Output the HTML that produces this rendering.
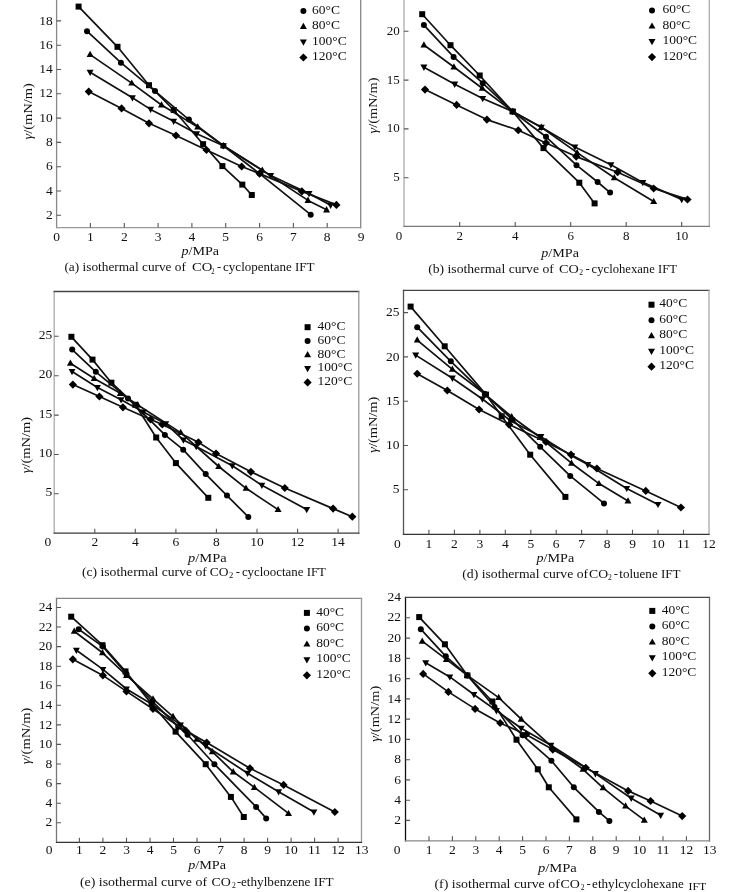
<!DOCTYPE html>
<html><head><meta charset="utf-8"><style>
html,body{margin:0;padding:0;background:#fff;width:737px;height:892px;overflow:hidden}
svg{display:block;filter:blur(0.3px)}
text{font-family:"Liberation Serif",serif;fill:#111}
</style></head><body>
<svg width="737" height="892" viewBox="0 0 737 892">
<rect width="737" height="892" fill="#fff"/>
<path d="M56.6,-4.0V228.2" stroke="#888" stroke-width="1.3"/>
<path d="M56.0,-3.4H361.3" stroke="#666" stroke-width="1.3"/>
<path d="M360.7,-4.0V228.2" stroke="#888" stroke-width="1.3"/>
<path d="M56.0,227.6H361.3" stroke="#999" stroke-width="1.3"/>
<path d="M90.4,227.6V223.1M124.3,227.6V223.1M158.1,227.6V223.1M191.9,227.6V223.1M225.7,227.6V223.1M259.6,227.6V223.1M293.4,227.6V223.1M327.2,227.6V223.1M56.6,215.3H61.1M56.6,191.0H61.1M56.6,166.7H61.1M56.6,142.4H61.1M56.6,118.1H61.1M56.6,93.8H61.1M56.6,69.5H61.1M56.6,45.2H61.1M56.6,20.9H61.1" stroke="#555" stroke-width="1.1" fill="none"/>
<text transform="translate(56.6,240.6) scale(1.0,1)" font-size="13.5" text-anchor="middle">0</text>
<text transform="translate(90.4,240.6) scale(1.0,1)" font-size="13.5" text-anchor="middle">1</text>
<text transform="translate(124.3,240.6) scale(1.0,1)" font-size="13.5" text-anchor="middle">2</text>
<text transform="translate(158.1,240.6) scale(1.0,1)" font-size="13.5" text-anchor="middle">3</text>
<text transform="translate(191.9,240.6) scale(1.0,1)" font-size="13.5" text-anchor="middle">4</text>
<text transform="translate(225.7,240.6) scale(1.0,1)" font-size="13.5" text-anchor="middle">5</text>
<text transform="translate(259.6,240.6) scale(1.0,1)" font-size="13.5" text-anchor="middle">6</text>
<text transform="translate(293.4,240.6) scale(1.0,1)" font-size="13.5" text-anchor="middle">7</text>
<text transform="translate(327.2,240.6) scale(1.0,1)" font-size="13.5" text-anchor="middle">8</text>
<text transform="translate(361.1,240.6) scale(1.0,1)" font-size="13.5" text-anchor="middle">9</text>
<text transform="translate(52.7,218.9) scale(1.0,1)" font-size="13.5" text-anchor="end">2</text>
<text transform="translate(52.7,194.6) scale(1.0,1)" font-size="13.5" text-anchor="end">4</text>
<text transform="translate(52.7,170.3) scale(1.0,1)" font-size="13.5" text-anchor="end">6</text>
<text transform="translate(52.7,146.0) scale(1.0,1)" font-size="13.5" text-anchor="end">8</text>
<text transform="translate(52.7,121.7) scale(1.0,1)" font-size="13.5" text-anchor="end">10</text>
<text transform="translate(52.7,97.4) scale(1.0,1)" font-size="13.5" text-anchor="end">12</text>
<text transform="translate(52.7,73.1) scale(1.0,1)" font-size="13.5" text-anchor="end">14</text>
<text transform="translate(52.7,48.8) scale(1.0,1)" font-size="13.5" text-anchor="end">16</text>
<text transform="translate(52.7,24.5) scale(1.0,1)" font-size="13.5" text-anchor="end">18</text>
<text transform="translate(52.7,0.2) scale(1.0,1)" font-size="13.5" text-anchor="end">20</text>
<polyline points="78.6,6.6 117.5,46.8 149.0,85.2 173.7,110.0 203.1,144.2 222.4,166.1 242.3,184.6 251.8,195.0" fill="none" stroke="#111" stroke-width="1.7" stroke-linejoin="round"/>
<g fill="#000"><rect x="75.6" y="3.6" width="6.0" height="6.0"/><rect x="114.5" y="43.8" width="6.0" height="6.0"/><rect x="146.0" y="82.2" width="6.0" height="6.0"/><rect x="170.7" y="107.0" width="6.0" height="6.0"/><rect x="200.1" y="141.2" width="6.0" height="6.0"/><rect x="219.4" y="163.1" width="6.0" height="6.0"/><rect x="239.3" y="181.6" width="6.0" height="6.0"/><rect x="248.8" y="192.0" width="6.0" height="6.0"/></g>
<polyline points="87.0,31.2 120.9,62.7 155.0,91.1 188.9,119.6 223.4,145.8 259.6,173.6 310.7,214.7" fill="none" stroke="#111" stroke-width="1.7" stroke-linejoin="round"/>
<g fill="#000"><circle cx="87.0" cy="31.2" r="3.0"/><circle cx="120.9" cy="62.7" r="3.0"/><circle cx="155.0" cy="91.1" r="3.0"/><circle cx="188.9" cy="119.6" r="3.0"/><circle cx="223.4" cy="145.8" r="3.0"/><circle cx="259.6" cy="173.6" r="3.0"/><circle cx="310.7" cy="214.7" r="3.0"/></g>
<polyline points="90.1,54.6 131.7,83.1 161.5,105.0 197.7,127.0 223.4,145.8 262.3,170.2 308.0,200.4 326.6,209.8" fill="none" stroke="#111" stroke-width="1.7" stroke-linejoin="round"/>
<g fill="#000"><path d="M86.6,57.1L93.6,57.1L90.1,50.8Z"/><path d="M128.2,85.6L135.2,85.6L131.7,79.4Z"/><path d="M158.0,107.5L165.0,107.5L161.5,101.3Z"/><path d="M194.2,129.5L201.2,129.5L197.7,123.2Z"/><path d="M219.9,148.3L226.9,148.3L223.4,142.1Z"/><path d="M258.8,172.7L265.8,172.7L262.3,166.5Z"/><path d="M304.5,202.9L311.4,202.9L308.0,196.6Z"/><path d="M323.1,212.4L330.0,212.4L326.6,206.1Z"/></g>
<polyline points="90.1,72.3 132.4,97.7 150.6,109.4 173.7,121.3 196.7,133.8 223.4,145.8 270.7,175.6 309.0,193.6 330.6,205.2" fill="none" stroke="#111" stroke-width="1.7" stroke-linejoin="round"/>
<g fill="#000"><path d="M86.6,69.8L93.6,69.8L90.1,76.0Z"/><path d="M128.9,95.2L135.9,95.2L132.4,101.4Z"/><path d="M147.2,106.8L154.1,106.8L150.6,113.1Z"/><path d="M170.2,118.7L177.1,118.7L173.7,125.0Z"/><path d="M193.2,131.3L200.1,131.3L196.7,137.5Z"/><path d="M219.9,143.3L226.9,143.3L223.4,149.5Z"/><path d="M267.3,173.0L274.2,173.0L270.7,179.3Z"/><path d="M305.5,191.0L312.5,191.0L309.0,197.3Z"/><path d="M327.1,202.7L334.1,202.7L330.6,208.9Z"/></g>
<polyline points="88.7,91.6 121.6,108.4 149.0,123.3 176.0,135.5 206.5,149.9 241.7,166.5 259.6,173.6 301.9,191.4 336.4,204.9" fill="none" stroke="#111" stroke-width="1.7" stroke-linejoin="round"/>
<g fill="#000"><path d="M88.7,87.5L92.8,91.6L88.7,95.7L84.7,91.6Z"/><path d="M121.6,104.3L125.6,108.4L121.6,112.5L117.5,108.4Z"/><path d="M149.0,119.2L153.0,123.3L149.0,127.4L144.9,123.3Z"/><path d="M176.0,131.4L180.1,135.5L176.0,139.6L171.9,135.5Z"/><path d="M206.5,145.9L210.5,149.9L206.5,154.0L202.4,149.9Z"/><path d="M241.7,162.4L245.7,166.5L241.7,170.5L237.6,166.5Z"/><path d="M259.6,169.5L263.7,173.6L259.6,177.7L255.5,173.6Z"/><path d="M301.9,187.3L305.9,191.4L301.9,195.4L297.8,191.4Z"/><path d="M336.4,200.8L340.5,204.9L336.4,208.9L332.3,204.9Z"/></g>
<g fill="#000"><rect x="300.4" y="-7.5" width="6.0" height="6.0"/></g>
<text transform="translate(312,-1.8) scale(1.08,1)" font-size="12.5">40°C</text>
<g fill="#000"><circle cx="303.4" cy="11.0" r="3.0"/></g>
<text transform="translate(312,13.8) scale(1.08,1)" font-size="12.5">60°C</text>
<g fill="#000"><path d="M299.9,29.0L306.9,29.0L303.4,22.8Z"/></g>
<text transform="translate(312,29.2) scale(1.08,1)" font-size="12.5">80°C</text>
<g fill="#000"><path d="M299.9,39.5L306.9,39.5L303.4,45.7Z"/></g>
<text transform="translate(312,44.8) scale(1.08,1)" font-size="12.5">100°C</text>
<g fill="#000"><path d="M303.4,53.4L307.5,57.5L303.4,61.6L299.3,57.5Z"/></g>
<text transform="translate(312,60.2) scale(1.08,1)" font-size="12.5">120°C</text>
<text transform="translate(28,111.4) rotate(-90)" x="-28.2" y="4.3" font-size="13" textLength="56.5" lengthAdjust="spacingAndGlyphs"><tspan font-style="italic">γ</tspan>/(mN/m)</text>
<text x="181.5" y="254.8" font-size="13" textLength="37.5" lengthAdjust="spacingAndGlyphs"><tspan font-style="italic">p</tspan>/MPa</text>
<text x="64.45" y="271.4" font-size="13" textLength="121.5" lengthAdjust="spacingAndGlyphs">(a) isothermal curve of</text>
<text x="192.1" y="271.4" font-size="13" textLength="20.3" lengthAdjust="spacingAndGlyphs">CO</text>
<text x="211.3" y="273.59999999999997" font-size="7.5" textLength="3.2" lengthAdjust="spacingAndGlyphs">2</text>
<text x="216.9" y="271.4" font-size="13" textLength="4.3" lengthAdjust="spacingAndGlyphs">-</text>
<text x="223.1" y="271.4" font-size="13" textLength="91.4" lengthAdjust="spacingAndGlyphs">cyclopentane IFT</text>
<path d="M404.0,-18.200000000000003V227.0" stroke="#aaa" stroke-width="1.3"/>
<path d="M403.4,-17.6H709.9" stroke="#666" stroke-width="1.3"/>
<path d="M709.3,-18.200000000000003V227.0" stroke="#aaa" stroke-width="1.3"/>
<path d="M403.4,226.4H709.9" stroke="#777" stroke-width="1.3"/>
<path d="M459.7,226.4V221.9M515.2,226.4V221.9M570.7,226.4V221.9M626.2,226.4V221.9M681.7,226.4V221.9M404.0,177.8H408.5M404.0,128.9H408.5M404.0,80.1H408.5M404.0,31.2H408.5" stroke="#555" stroke-width="1.1" fill="none"/>
<text transform="translate(398.9,239.9) scale(1.0,1)" font-size="13" text-anchor="middle">0</text>
<text transform="translate(459.7,239.9) scale(1.0,1)" font-size="13" text-anchor="middle">2</text>
<text transform="translate(515.2,239.9) scale(1.0,1)" font-size="13" text-anchor="middle">4</text>
<text transform="translate(570.7,239.9) scale(1.0,1)" font-size="13" text-anchor="middle">6</text>
<text transform="translate(626.2,239.9) scale(1.0,1)" font-size="13" text-anchor="middle">8</text>
<text transform="translate(681.7,239.9) scale(1.0,1)" font-size="13" text-anchor="middle">10</text>
<text transform="translate(399.8,181.2) scale(1.0,1)" font-size="13" text-anchor="end">5</text>
<text transform="translate(399.8,132.3) scale(1.0,1)" font-size="13" text-anchor="end">10</text>
<text transform="translate(399.8,83.5) scale(1.0,1)" font-size="13" text-anchor="end">15</text>
<text transform="translate(399.8,34.6) scale(1.0,1)" font-size="13" text-anchor="end">20</text>
<text transform="translate(399.8,-14.2) scale(1.0,1)" font-size="13" text-anchor="end">25</text>
<polyline points="422.2,14.2 450.5,45.2 479.7,75.5 512.7,111.5 543.5,148.1 579.3,182.7 594.6,203.4" fill="none" stroke="#111" stroke-width="1.7" stroke-linejoin="round"/>
<g fill="#000"><rect x="419.2" y="11.2" width="6.0" height="6.0"/><rect x="447.5" y="42.2" width="6.0" height="6.0"/><rect x="476.7" y="72.5" width="6.0" height="6.0"/><rect x="509.7" y="108.5" width="6.0" height="6.0"/><rect x="540.5" y="145.1" width="6.0" height="6.0"/><rect x="576.3" y="179.7" width="6.0" height="6.0"/><rect x="591.6" y="200.4" width="6.0" height="6.0"/></g>
<polyline points="423.9,25.1 453.6,56.9 482.7,83.2 512.7,111.5 546.0,136.8 576.5,165.2 597.6,182.0 610.1,192.6" fill="none" stroke="#111" stroke-width="1.7" stroke-linejoin="round"/>
<g fill="#000"><circle cx="423.9" cy="25.1" r="3.0"/><circle cx="453.6" cy="56.9" r="3.0"/><circle cx="482.7" cy="83.2" r="3.0"/><circle cx="512.7" cy="111.5" r="3.0"/><circle cx="546.0" cy="136.8" r="3.0"/><circle cx="576.5" cy="165.2" r="3.0"/><circle cx="597.6" cy="182.0" r="3.0"/><circle cx="610.1" cy="192.6" r="3.0"/></g>
<polyline points="423.9,45.0 453.9,67.0 482.2,88.3 512.7,111.5 541.3,127.3 577.1,152.6 614.3,177.7 653.7,201.4" fill="none" stroke="#111" stroke-width="1.7" stroke-linejoin="round"/>
<g fill="#000"><path d="M420.4,47.5L427.4,47.5L423.9,41.3Z"/><path d="M450.4,69.5L457.4,69.5L453.9,63.2Z"/><path d="M478.7,90.8L485.7,90.8L482.2,84.5Z"/><path d="M509.2,114.0L516.2,114.0L512.7,107.8Z"/><path d="M537.8,129.9L544.8,129.9L541.3,123.6Z"/><path d="M573.6,155.2L580.6,155.2L577.1,148.9Z"/><path d="M610.8,180.2L617.7,180.2L614.3,173.9Z"/><path d="M650.2,203.9L657.2,203.9L653.7,197.7Z"/></g>
<polyline points="423.9,67.2 454.7,84.2 482.7,98.5 512.7,111.5 541.3,127.3 574.9,147.1 610.9,164.8 642.8,182.4 681.7,199.4" fill="none" stroke="#111" stroke-width="1.7" stroke-linejoin="round"/>
<g fill="#000"><path d="M420.4,64.6L427.4,64.6L423.9,70.9Z"/><path d="M451.2,81.6L458.2,81.6L454.7,87.9Z"/><path d="M479.3,96.0L486.2,96.0L482.7,102.2Z"/><path d="M509.2,109.0L516.2,109.0L512.7,115.2Z"/><path d="M537.8,124.8L544.8,124.8L541.3,131.1Z"/><path d="M571.4,144.6L578.3,144.6L574.9,150.8Z"/><path d="M607.5,162.2L614.4,162.2L610.9,168.5Z"/><path d="M639.4,179.9L646.3,179.9L642.8,186.2Z"/><path d="M678.2,196.9L685.2,196.9L681.7,203.2Z"/></g>
<polyline points="425.0,89.6 456.6,104.9 486.9,119.6 518.3,130.3 546.0,142.9 576.2,156.6 617.6,172.2 653.7,188.5 687.5,199.4" fill="none" stroke="#111" stroke-width="1.7" stroke-linejoin="round"/>
<g fill="#000"><path d="M425.0,85.5L429.1,89.6L425.0,93.7L420.9,89.6Z"/><path d="M456.6,100.8L460.7,104.9L456.6,108.9L452.6,104.9Z"/><path d="M486.9,115.5L491.0,119.6L486.9,123.7L482.8,119.6Z"/><path d="M518.3,126.2L522.3,130.3L518.3,134.3L514.2,130.3Z"/><path d="M546.0,138.8L550.1,142.9L546.0,147.0L541.9,142.9Z"/><path d="M576.2,152.6L580.3,156.6L576.2,160.7L572.2,156.6Z"/><path d="M617.6,168.1L621.7,172.2L617.6,176.3L613.5,172.2Z"/><path d="M653.7,184.4L657.8,188.5L653.7,192.6L649.6,188.5Z"/><path d="M687.5,195.4L691.6,199.4L687.5,203.5L683.4,199.4Z"/></g>
<g fill="#000"><rect x="649.0" y="-7.9" width="6.0" height="6.0"/></g>
<text transform="translate(662.4,-2.2) scale(1.08,1)" font-size="12.5">40°C</text>
<g fill="#000"><circle cx="652.0" cy="10.6" r="3.0"/></g>
<text transform="translate(662.4,13.3) scale(1.08,1)" font-size="12.5">60°C</text>
<g fill="#000"><path d="M648.5,28.6L655.5,28.6L652.0,22.4Z"/></g>
<text transform="translate(662.4,28.9) scale(1.08,1)" font-size="12.5">80°C</text>
<g fill="#000"><path d="M648.5,39.1L655.5,39.1L652.0,45.3Z"/></g>
<text transform="translate(662.4,44.4) scale(1.08,1)" font-size="12.5">100°C</text>
<g fill="#000"><path d="M652.0,53.0L656.1,57.1L652.0,61.2L647.9,57.1Z"/></g>
<text transform="translate(662.4,59.9) scale(1.08,1)" font-size="12.5">120°C</text>
<text transform="translate(373,105.5) rotate(-90)" x="-28.0" y="4.1" font-size="12.5" textLength="56" lengthAdjust="spacingAndGlyphs"><tspan font-style="italic">γ</tspan>/(mN/m)</text>
<text x="541.3" y="257.1" font-size="13" textLength="37.7" lengthAdjust="spacingAndGlyphs"><tspan font-style="italic">p</tspan>/MPa</text>
<text x="428.2" y="273.2" font-size="13" textLength="125.6" lengthAdjust="spacingAndGlyphs">(b) isothermal curve of</text>
<text x="558.9" y="273.2" font-size="13" textLength="19.8" lengthAdjust="spacingAndGlyphs">CO</text>
<text x="579.1999999999999" y="275.4" font-size="7.5" textLength="3.8" lengthAdjust="spacingAndGlyphs">2</text>
<text x="585.4" y="273.2" font-size="13" textLength="4.3" lengthAdjust="spacingAndGlyphs">-</text>
<text x="591.6" y="273.2" font-size="13" textLength="85.3" lengthAdjust="spacingAndGlyphs">cyclohexane IFT</text>
<path d="M54.2,290.9V533.8000000000001" stroke="#aaa" stroke-width="1.3"/>
<path d="M53.6,291.5H359.40000000000003" stroke="#444" stroke-width="1.3"/>
<path d="M358.8,290.9V533.8000000000001" stroke="#999" stroke-width="1.3"/>
<path d="M53.6,533.2H359.40000000000003" stroke="#3a3a3a" stroke-width="1.3"/>
<path d="M94.8,533.2V528.7M135.3,533.2V528.7M175.9,533.2V528.7M216.4,533.2V528.7M257.0,533.2V528.7M297.6,533.2V528.7M338.1,533.2V528.7M54.2,493.8H58.7M54.2,454.5H58.7M54.2,415.1H58.7M54.2,375.7H58.7M54.2,336.3H58.7" stroke="#555" stroke-width="1.1" fill="none"/>
<text transform="translate(47.8,545.9) scale(1.0,1)" font-size="13.5" text-anchor="middle">0</text>
<text transform="translate(94.8,545.9) scale(1.0,1)" font-size="13.5" text-anchor="middle">2</text>
<text transform="translate(135.3,545.9) scale(1.0,1)" font-size="13.5" text-anchor="middle">4</text>
<text transform="translate(175.9,545.9) scale(1.0,1)" font-size="13.5" text-anchor="middle">6</text>
<text transform="translate(216.4,545.9) scale(1.0,1)" font-size="13.5" text-anchor="middle">8</text>
<text transform="translate(257.0,545.9) scale(1.0,1)" font-size="13.5" text-anchor="middle">10</text>
<text transform="translate(297.6,545.9) scale(1.0,1)" font-size="13.5" text-anchor="middle">12</text>
<text transform="translate(338.1,545.9) scale(1.0,1)" font-size="13.5" text-anchor="middle">14</text>
<text transform="translate(52.3,496.4) scale(1.0,1)" font-size="13.5" text-anchor="end">5</text>
<text transform="translate(52.3,457.0) scale(1.0,1)" font-size="13.5" text-anchor="end">10</text>
<text transform="translate(52.3,417.7) scale(1.0,1)" font-size="13.5" text-anchor="end">15</text>
<text transform="translate(52.3,378.3) scale(1.0,1)" font-size="13.5" text-anchor="end">20</text>
<text transform="translate(52.3,338.9) scale(1.0,1)" font-size="13.5" text-anchor="end">25</text>
<polyline points="71.4,336.8 92.5,359.6 111.4,382.7 135.3,404.8 156.2,437.5 175.9,463.1 208.3,497.8" fill="none" stroke="#111" stroke-width="1.7" stroke-linejoin="round"/>
<g fill="#000"><rect x="68.4" y="333.8" width="6.0" height="6.0"/><rect x="89.5" y="356.6" width="6.0" height="6.0"/><rect x="108.4" y="379.7" width="6.0" height="6.0"/><rect x="132.3" y="401.8" width="6.0" height="6.0"/><rect x="153.2" y="434.5" width="6.0" height="6.0"/><rect x="172.9" y="460.1" width="6.0" height="6.0"/><rect x="205.3" y="494.8" width="6.0" height="6.0"/></g>
<polyline points="72.2,349.6 95.8,371.8 128.0,398.4 164.9,434.9 183.2,449.7 205.7,474.1 227.0,495.6 248.3,516.9" fill="none" stroke="#111" stroke-width="1.7" stroke-linejoin="round"/>
<g fill="#000"><circle cx="72.2" cy="349.6" r="3.0"/><circle cx="95.8" cy="371.8" r="3.0"/><circle cx="128.0" cy="398.4" r="3.0"/><circle cx="164.9" cy="434.9" r="3.0"/><circle cx="183.2" cy="449.7" r="3.0"/><circle cx="205.7" cy="474.1" r="3.0"/><circle cx="227.0" cy="495.6" r="3.0"/><circle cx="248.3" cy="516.9" r="3.0"/></g>
<polyline points="70.4,363.3 94.2,378.5 120.3,393.3 137.8,405.0 180.7,432.6 218.7,466.5 246.0,488.3 278.1,509.6" fill="none" stroke="#111" stroke-width="1.7" stroke-linejoin="round"/>
<g fill="#000"><path d="M66.9,365.8L73.9,365.8L70.4,359.5Z"/><path d="M90.7,381.0L97.6,381.0L94.2,374.7Z"/><path d="M116.8,395.9L123.8,395.9L120.3,389.6Z"/><path d="M134.3,407.5L141.2,407.5L137.8,401.3Z"/><path d="M177.3,435.1L184.2,435.1L180.7,428.8Z"/><path d="M215.2,469.0L222.2,469.0L218.7,462.8Z"/><path d="M242.6,490.8L249.5,490.8L246.0,484.6Z"/><path d="M274.6,512.1L281.6,512.1L278.1,505.9Z"/></g>
<polyline points="72.0,371.5 97.4,387.5 121.1,399.7 143.4,411.9 165.7,423.7 183.4,440.0 196.2,446.6 232.3,465.8 261.9,485.3 306.7,509.6" fill="none" stroke="#111" stroke-width="1.7" stroke-linejoin="round"/>
<g fill="#000"><path d="M68.6,369.0L75.5,369.0L72.0,375.2Z"/><path d="M93.9,385.0L100.9,385.0L97.4,391.2Z"/><path d="M117.6,397.2L124.6,397.2L121.1,403.4Z"/><path d="M140.0,409.4L146.9,409.4L143.4,415.6Z"/><path d="M162.3,421.2L169.2,421.2L165.7,427.5Z"/><path d="M179.9,437.4L186.9,437.4L183.4,443.7Z"/><path d="M192.7,444.1L199.6,444.1L196.2,450.3Z"/><path d="M228.8,463.3L235.7,463.3L232.3,469.5Z"/><path d="M258.4,482.8L265.3,482.8L261.9,489.0Z"/><path d="M303.2,507.1L310.2,507.1L306.7,513.3Z"/></g>
<polyline points="72.9,384.6 99.4,396.6 122.9,407.3 150.5,419.5 162.3,424.4 198.4,442.3 216.0,453.6 250.9,471.8 284.8,488.0 333.1,508.6 352.3,516.7" fill="none" stroke="#111" stroke-width="1.7" stroke-linejoin="round"/>
<g fill="#000"><path d="M72.9,380.5L76.9,384.6L72.9,388.7L68.8,384.6Z"/><path d="M99.4,392.5L103.5,396.6L99.4,400.6L95.3,396.6Z"/><path d="M122.9,403.2L127.0,407.3L122.9,411.4L118.9,407.3Z"/><path d="M150.5,415.4L154.6,419.5L150.5,423.6L146.5,419.5Z"/><path d="M162.3,420.3L166.4,424.4L162.3,428.4L158.2,424.4Z"/><path d="M198.4,438.2L202.5,442.3L198.4,446.4L194.3,442.3Z"/><path d="M216.0,449.5L220.1,453.6L216.0,457.7L212.0,453.6Z"/><path d="M250.9,467.7L255.0,471.8L250.9,475.9L246.8,471.8Z"/><path d="M284.8,483.9L288.9,488.0L284.8,492.1L280.7,488.0Z"/><path d="M333.1,504.6L337.1,508.6L333.1,512.7L329.0,508.6Z"/><path d="M352.3,512.6L356.4,516.7L352.3,520.7L348.2,516.7Z"/></g>
<g fill="#000"><rect x="304.6" y="324.2" width="6.0" height="6.0"/></g>
<text transform="translate(317.5,329.9) scale(1.08,1)" font-size="12.5">40°C</text>
<g fill="#000"><circle cx="307.6" cy="341.0" r="3.0"/></g>
<text transform="translate(317.5,343.8) scale(1.08,1)" font-size="12.5">60°C</text>
<g fill="#000"><path d="M304.1,357.3L311.1,357.3L307.6,351.1Z"/></g>
<text transform="translate(317.5,357.6) scale(1.08,1)" font-size="12.5">80°C</text>
<g fill="#000"><path d="M304.1,366.1L311.1,366.1L307.6,372.3Z"/></g>
<text transform="translate(317.5,371.4) scale(1.08,1)" font-size="12.5">100°C</text>
<g fill="#000"><path d="M307.6,378.3L311.7,382.4L307.6,386.5L303.5,382.4Z"/></g>
<text transform="translate(317.5,385.1) scale(1.08,1)" font-size="12.5">120°C</text>
<text transform="translate(25.5,445.2) rotate(-90)" x="-28.1" y="4.3" font-size="13" textLength="56.3" lengthAdjust="spacingAndGlyphs"><tspan font-style="italic">γ</tspan>/(mN/m)</text>
<text x="188.1" y="561.5" font-size="13" textLength="38.5" lengthAdjust="spacingAndGlyphs"><tspan font-style="italic">p</tspan>/MPa</text>
<text x="81.9" y="576.1" font-size="13" textLength="125.0" lengthAdjust="spacingAndGlyphs">(c) isothermal curve of</text>
<text x="209.79999999999998" y="576.1" font-size="13" textLength="18.7" lengthAdjust="spacingAndGlyphs">CO</text>
<text x="229.0" y="578.3000000000001" font-size="7.5" textLength="4.3" lengthAdjust="spacingAndGlyphs">2</text>
<text x="235.7" y="576.1" font-size="13" textLength="4.3" lengthAdjust="spacingAndGlyphs">-</text>
<text x="241.89999999999998" y="576.1" font-size="13" textLength="84.1" lengthAdjust="spacingAndGlyphs">cyclooctane IFT</text>
<path d="M403.5,289.79999999999995V534.9" stroke="#555" stroke-width="1.3"/>
<path d="M402.9,290.4H709.6" stroke="#444" stroke-width="1.3"/>
<path d="M709.0,289.79999999999995V534.9" stroke="#aaa" stroke-width="1.3"/>
<path d="M402.9,534.3H709.6" stroke="#333" stroke-width="1.3"/>
<path d="M428.9,534.3V529.8M454.4,534.3V529.8M479.9,534.3V529.8M505.3,534.3V529.8M530.8,534.3V529.8M556.2,534.3V529.8M581.6,534.3V529.8M607.1,534.3V529.8M632.5,534.3V529.8M658.0,534.3V529.8M683.5,534.3V529.8M403.5,489.8H408.0M403.5,445.5H408.0M403.5,401.2H408.0M403.5,356.9H408.0M403.5,312.6H408.0" stroke="#555" stroke-width="1.1" fill="none"/>
<text transform="translate(397.4,548.0) scale(1.0,1)" font-size="13.5" text-anchor="middle">0</text>
<text transform="translate(428.9,548.0) scale(1.0,1)" font-size="13.5" text-anchor="middle">1</text>
<text transform="translate(454.4,548.0) scale(1.0,1)" font-size="13.5" text-anchor="middle">2</text>
<text transform="translate(479.9,548.0) scale(1.0,1)" font-size="13.5" text-anchor="middle">3</text>
<text transform="translate(505.3,548.0) scale(1.0,1)" font-size="13.5" text-anchor="middle">4</text>
<text transform="translate(530.8,548.0) scale(1.0,1)" font-size="13.5" text-anchor="middle">5</text>
<text transform="translate(556.2,548.0) scale(1.0,1)" font-size="13.5" text-anchor="middle">6</text>
<text transform="translate(581.6,548.0) scale(1.0,1)" font-size="13.5" text-anchor="middle">7</text>
<text transform="translate(607.1,548.0) scale(1.0,1)" font-size="13.5" text-anchor="middle">8</text>
<text transform="translate(632.5,548.0) scale(1.0,1)" font-size="13.5" text-anchor="middle">9</text>
<text transform="translate(658.0,548.0) scale(1.0,1)" font-size="13.5" text-anchor="middle">10</text>
<text transform="translate(683.5,548.0) scale(1.0,1)" font-size="13.5" text-anchor="middle">11</text>
<text transform="translate(708.9,548.0) scale(1.0,1)" font-size="13.5" text-anchor="middle">12</text>
<text transform="translate(399.5,493.4) scale(1.0,1)" font-size="13.5" text-anchor="end">5</text>
<text transform="translate(399.5,449.1) scale(1.0,1)" font-size="13.5" text-anchor="end">10</text>
<text transform="translate(399.5,404.8) scale(1.0,1)" font-size="13.5" text-anchor="end">15</text>
<text transform="translate(399.5,360.5) scale(1.0,1)" font-size="13.5" text-anchor="end">20</text>
<text transform="translate(399.5,316.2) scale(1.0,1)" font-size="13.5" text-anchor="end">25</text>
<polyline points="410.6,306.6 444.7,346.3 486.0,394.6 501.7,416.3 530.2,454.7 565.4,496.9" fill="none" stroke="#111" stroke-width="1.7" stroke-linejoin="round"/>
<g fill="#000"><rect x="407.6" y="303.6" width="6.0" height="6.0"/><rect x="441.7" y="343.3" width="6.0" height="6.0"/><rect x="483.0" y="391.6" width="6.0" height="6.0"/><rect x="498.7" y="413.3" width="6.0" height="6.0"/><rect x="527.2" y="451.7" width="6.0" height="6.0"/><rect x="562.4" y="493.9" width="6.0" height="6.0"/></g>
<polyline points="417.2,327.2 450.8,361.3 484.9,394.1 512.7,419.8 540.2,446.8 570.2,475.9 604.0,503.4" fill="none" stroke="#111" stroke-width="1.7" stroke-linejoin="round"/>
<g fill="#000"><circle cx="417.2" cy="327.2" r="3.0"/><circle cx="450.8" cy="361.3" r="3.0"/><circle cx="484.9" cy="394.1" r="3.0"/><circle cx="512.7" cy="419.8" r="3.0"/><circle cx="540.2" cy="446.8" r="3.0"/><circle cx="570.2" cy="475.9" r="3.0"/><circle cx="604.0" cy="503.4" r="3.0"/></g>
<polyline points="417.2,340.1 452.4,369.3 484.9,394.1 511.7,416.7 540.2,437.5 571.5,463.2 599.0,483.6 628.0,500.9" fill="none" stroke="#111" stroke-width="1.7" stroke-linejoin="round"/>
<g fill="#000"><path d="M413.8,342.6L420.7,342.6L417.2,336.3Z"/><path d="M448.9,371.8L455.8,371.8L452.4,365.6Z"/><path d="M481.5,396.6L488.4,396.6L484.9,390.4Z"/><path d="M508.2,419.2L515.1,419.2L511.7,413.0Z"/><path d="M536.7,440.0L543.6,440.0L540.2,433.8Z"/><path d="M568.0,465.7L575.0,465.7L571.5,459.5Z"/><path d="M595.5,486.1L602.4,486.1L599.0,479.9Z"/><path d="M624.5,503.4L631.4,503.4L628.0,497.2Z"/></g>
<polyline points="415.7,355.1 452.4,378.2 482.4,399.0 510.4,420.7 540.9,436.6 571.5,455.7 587.8,464.6 626.7,488.4 658.0,504.4" fill="none" stroke="#111" stroke-width="1.7" stroke-linejoin="round"/>
<g fill="#000"><path d="M412.2,352.6L419.2,352.6L415.7,358.8Z"/><path d="M448.9,375.6L455.8,375.6L452.4,381.9Z"/><path d="M478.9,396.5L485.9,396.5L482.4,402.7Z"/><path d="M506.9,418.2L513.9,418.2L510.4,424.4Z"/><path d="M537.5,434.1L544.4,434.1L540.9,440.4Z"/><path d="M568.0,453.2L575.0,453.2L571.5,459.4Z"/><path d="M584.3,462.1L591.2,462.1L587.8,468.4Z"/><path d="M623.2,485.9L630.2,485.9L626.7,492.1Z"/><path d="M654.5,501.9L661.5,501.9L658.0,508.1Z"/></g>
<polyline points="417.2,373.7 447.3,390.6 479.1,409.5 509.1,424.6 546.0,442.0 571.0,454.7 596.9,468.5 645.8,490.9 680.9,507.5" fill="none" stroke="#111" stroke-width="1.7" stroke-linejoin="round"/>
<g fill="#000"><path d="M417.2,369.7L421.3,373.7L417.2,377.8L413.2,373.7Z"/><path d="M447.3,386.5L451.4,390.6L447.3,394.6L443.2,390.6Z"/><path d="M479.1,405.4L483.2,409.5L479.1,413.6L475.0,409.5Z"/><path d="M509.1,420.5L513.2,424.6L509.1,428.7L505.0,424.6Z"/><path d="M546.0,437.9L550.1,442.0L546.0,446.0L541.9,442.0Z"/><path d="M571.0,450.6L575.0,454.7L571.0,458.8L566.9,454.7Z"/><path d="M596.9,464.5L601.0,468.5L596.9,472.6L592.8,468.5Z"/><path d="M645.8,486.8L649.9,490.9L645.8,494.9L641.7,490.9Z"/><path d="M680.9,503.4L685.0,507.5L680.9,511.6L676.8,507.5Z"/></g>
<g fill="#000"><rect x="648.5" y="301.7" width="6.0" height="6.0"/></g>
<text transform="translate(659.3,307.4) scale(1.08,1)" font-size="12.5">40°C</text>
<g fill="#000"><circle cx="651.5" cy="320.2" r="3.0"/></g>
<text transform="translate(659.3,322.9) scale(1.08,1)" font-size="12.5">60°C</text>
<g fill="#000"><path d="M648.0,338.2L655.0,338.2L651.5,332.0Z"/></g>
<text transform="translate(659.3,338.4) scale(1.08,1)" font-size="12.5">80°C</text>
<g fill="#000"><path d="M648.0,348.7L655.0,348.7L651.5,354.9Z"/></g>
<text transform="translate(659.3,353.9) scale(1.08,1)" font-size="12.5">100°C</text>
<g fill="#000"><path d="M651.5,362.6L655.6,366.7L651.5,370.8L647.4,366.7Z"/></g>
<text transform="translate(659.3,369.4) scale(1.08,1)" font-size="12.5">120°C</text>
<text transform="translate(373,424.65) rotate(-90)" x="-28.1" y="4.3" font-size="13" textLength="56.1" lengthAdjust="spacingAndGlyphs"><tspan font-style="italic">γ</tspan>/(mN/m)</text>
<text x="536.5" y="562.4" font-size="13" textLength="37.7" lengthAdjust="spacingAndGlyphs"><tspan font-style="italic">p</tspan>/MPa</text>
<text x="462.3" y="578" font-size="13" textLength="125.8" lengthAdjust="spacingAndGlyphs">(d) isothermal curve of</text>
<text x="589.1" y="578" font-size="13" textLength="19.0" lengthAdjust="spacingAndGlyphs">CO</text>
<text x="608.0" y="580.2" font-size="7.5" textLength="3.8" lengthAdjust="spacingAndGlyphs">2</text>
<text x="613.7" y="578" font-size="13" textLength="4.3" lengthAdjust="spacingAndGlyphs">-</text>
<text x="619.3000000000001" y="578" font-size="13" textLength="61.2" lengthAdjust="spacingAndGlyphs">toluene IFT</text>
<path d="M56.5,597.8V842.9" stroke="#777" stroke-width="1.3"/>
<path d="M55.9,598.4H362.1" stroke="#888" stroke-width="1.3"/>
<path d="M361.5,597.8V842.9" stroke="#999" stroke-width="1.3"/>
<path d="M55.9,842.3H362.1" stroke="#333" stroke-width="1.3"/>
<path d="M79.4,842.3V837.8M102.9,842.3V837.8M126.5,842.3V837.8M150.0,842.3V837.8M173.5,842.3V837.8M197.0,842.3V837.8M220.5,842.3V837.8M244.1,842.3V837.8M267.6,842.3V837.8M291.1,842.3V837.8M314.6,842.3V837.8M338.1,842.3V837.8M56.5,822.7H61.0M56.5,803.2H61.0M56.5,783.6H61.0M56.5,764.0H61.0M56.5,744.4H61.0M56.5,724.9H61.0M56.5,705.3H61.0M56.5,685.7H61.0M56.5,666.2H61.0M56.5,646.6H61.0M56.5,627.0H61.0M56.5,607.5H61.0" stroke="#555" stroke-width="1.1" fill="none"/>
<text transform="translate(49.2,854.0) scale(1.0,1)" font-size="13.5" text-anchor="middle">0</text>
<text transform="translate(79.4,854.0) scale(1.0,1)" font-size="13.5" text-anchor="middle">1</text>
<text transform="translate(102.9,854.0) scale(1.0,1)" font-size="13.5" text-anchor="middle">2</text>
<text transform="translate(126.5,854.0) scale(1.0,1)" font-size="13.5" text-anchor="middle">3</text>
<text transform="translate(150.0,854.0) scale(1.0,1)" font-size="13.5" text-anchor="middle">4</text>
<text transform="translate(173.5,854.0) scale(1.0,1)" font-size="13.5" text-anchor="middle">5</text>
<text transform="translate(197.0,854.0) scale(1.0,1)" font-size="13.5" text-anchor="middle">6</text>
<text transform="translate(220.5,854.0) scale(1.0,1)" font-size="13.5" text-anchor="middle">7</text>
<text transform="translate(244.1,854.0) scale(1.0,1)" font-size="13.5" text-anchor="middle">8</text>
<text transform="translate(267.6,854.0) scale(1.0,1)" font-size="13.5" text-anchor="middle">9</text>
<text transform="translate(291.1,854.0) scale(1.0,1)" font-size="13.5" text-anchor="middle">10</text>
<text transform="translate(314.6,854.0) scale(1.0,1)" font-size="13.5" text-anchor="middle">11</text>
<text transform="translate(338.1,854.0) scale(1.0,1)" font-size="13.5" text-anchor="middle">12</text>
<text transform="translate(361.7,854.0) scale(1.0,1)" font-size="13.5" text-anchor="middle">13</text>
<text transform="translate(52.3,826.3) scale(1.0,1)" font-size="13.5" text-anchor="end">2</text>
<text transform="translate(52.3,806.8) scale(1.0,1)" font-size="13.5" text-anchor="end">4</text>
<text transform="translate(52.3,787.2) scale(1.0,1)" font-size="13.5" text-anchor="end">6</text>
<text transform="translate(52.3,767.6) scale(1.0,1)" font-size="13.5" text-anchor="end">8</text>
<text transform="translate(52.3,748.0) scale(1.0,1)" font-size="13.5" text-anchor="end">10</text>
<text transform="translate(52.3,728.5) scale(1.0,1)" font-size="13.5" text-anchor="end">12</text>
<text transform="translate(52.3,708.9) scale(1.0,1)" font-size="13.5" text-anchor="end">14</text>
<text transform="translate(52.3,689.3) scale(1.0,1)" font-size="13.5" text-anchor="end">16</text>
<text transform="translate(52.3,669.8) scale(1.0,1)" font-size="13.5" text-anchor="end">18</text>
<text transform="translate(52.3,650.2) scale(1.0,1)" font-size="13.5" text-anchor="end">20</text>
<text transform="translate(52.3,630.6) scale(1.0,1)" font-size="13.5" text-anchor="end">22</text>
<text transform="translate(52.3,611.0) scale(1.0,1)" font-size="13.5" text-anchor="end">24</text>
<polyline points="71.2,616.7 102.5,645.2 125.5,671.4 151.6,704.0 175.6,731.6 205.7,764.2 230.9,796.9 243.8,817.0" fill="none" stroke="#111" stroke-width="1.7" stroke-linejoin="round"/>
<g fill="#000"><rect x="68.2" y="613.7" width="6.0" height="6.0"/><rect x="99.5" y="642.2" width="6.0" height="6.0"/><rect x="122.5" y="668.4" width="6.0" height="6.0"/><rect x="148.6" y="701.0" width="6.0" height="6.0"/><rect x="172.6" y="728.6" width="6.0" height="6.0"/><rect x="202.7" y="761.2" width="6.0" height="6.0"/><rect x="227.9" y="793.9" width="6.0" height="6.0"/><rect x="240.8" y="814.0" width="6.0" height="6.0"/></g>
<polyline points="78.7,629.2 102.9,646.6 126.5,674.0 152.3,701.4 178.2,726.8 187.6,734.7 214.4,764.2 256.1,806.9 266.2,818.4" fill="none" stroke="#111" stroke-width="1.7" stroke-linejoin="round"/>
<g fill="#000"><circle cx="78.7" cy="629.2" r="3.0"/><circle cx="102.9" cy="646.6" r="3.0"/><circle cx="126.5" cy="674.0" r="3.0"/><circle cx="152.3" cy="701.4" r="3.0"/><circle cx="178.2" cy="726.8" r="3.0"/><circle cx="187.6" cy="734.7" r="3.0"/><circle cx="214.4" cy="764.2" r="3.0"/><circle cx="256.1" cy="806.9" r="3.0"/><circle cx="266.2" cy="818.4" r="3.0"/></g>
<polyline points="74.2,631.2 102.5,652.8 126.5,675.4 153.0,698.9 173.0,716.6 196.8,739.2 212.3,751.7 233.2,771.8 254.4,787.4 288.5,813.4" fill="none" stroke="#111" stroke-width="1.7" stroke-linejoin="round"/>
<g fill="#000"><path d="M70.8,633.8L77.7,633.8L74.2,627.5Z"/><path d="M99.0,655.3L105.9,655.3L102.5,649.0Z"/><path d="M123.0,677.9L129.9,677.9L126.5,671.6Z"/><path d="M149.6,701.5L156.5,701.5L153.0,695.2Z"/><path d="M169.5,719.1L176.5,719.1L173.0,712.8Z"/><path d="M193.3,741.7L200.3,741.7L196.8,735.4Z"/><path d="M208.8,754.2L215.8,754.2L212.3,748.0Z"/><path d="M229.8,774.4L236.7,774.4L233.2,768.1Z"/><path d="M250.9,789.9L257.9,789.9L254.4,783.7Z"/><path d="M285.0,816.0L292.0,816.0L288.5,809.7Z"/></g>
<polyline points="76.4,650.3 102.9,669.4 126.5,689.0 151.6,704.0 180.6,724.9 205.7,745.7 247.6,773.3 278.6,791.8 313.9,812.0" fill="none" stroke="#111" stroke-width="1.7" stroke-linejoin="round"/>
<g fill="#000"><path d="M72.9,647.8L79.8,647.8L76.4,654.0Z"/><path d="M99.5,666.9L106.4,666.9L102.9,673.1Z"/><path d="M123.0,686.4L129.9,686.4L126.5,692.7Z"/><path d="M148.1,701.5L155.1,701.5L151.6,707.8Z"/><path d="M177.1,722.4L184.0,722.4L180.6,728.6Z"/><path d="M202.2,743.2L209.2,743.2L205.7,749.4Z"/><path d="M244.1,770.8L251.1,770.8L247.6,777.0Z"/><path d="M275.2,789.3L282.1,789.3L278.6,795.5Z"/><path d="M310.4,809.4L317.4,809.4L313.9,815.7Z"/></g>
<polyline points="72.8,659.3 102.9,675.4 126.5,691.4 153.0,709.0 185.7,730.7 206.7,742.5 249.9,768.3 283.6,784.9 334.8,812.0" fill="none" stroke="#111" stroke-width="1.7" stroke-linejoin="round"/>
<g fill="#000"><path d="M72.8,655.2L76.9,659.3L72.8,663.4L68.8,659.3Z"/><path d="M102.9,671.3L107.0,675.4L102.9,679.4L98.9,675.4Z"/><path d="M126.5,687.3L130.5,691.4L126.5,695.5L122.4,691.4Z"/><path d="M153.0,704.9L157.1,709.0L153.0,713.1L149.0,709.0Z"/><path d="M185.7,726.6L189.8,730.7L185.7,734.7L181.7,730.7Z"/><path d="M206.7,738.4L210.7,742.5L206.7,746.6L202.6,742.5Z"/><path d="M249.9,764.2L254.0,768.3L249.9,772.4L245.9,768.3Z"/><path d="M283.6,780.8L287.7,784.9L283.6,788.9L279.5,784.9Z"/><path d="M334.8,807.9L338.9,812.0L334.8,816.0L330.8,812.0Z"/></g>
<g fill="#000"><rect x="303.9" y="609.9" width="6.0" height="6.0"/></g>
<text transform="translate(316.2,615.6) scale(1.08,1)" font-size="12.5">40°C</text>
<g fill="#000"><circle cx="306.9" cy="628.5" r="3.0"/></g>
<text transform="translate(316.2,631.2) scale(1.08,1)" font-size="12.5">60°C</text>
<g fill="#000"><path d="M303.4,646.6L310.4,646.6L306.9,640.4Z"/></g>
<text transform="translate(316.2,646.9) scale(1.08,1)" font-size="12.5">80°C</text>
<g fill="#000"><path d="M303.4,657.2L310.4,657.2L306.9,663.4Z"/></g>
<text transform="translate(316.2,662.4) scale(1.08,1)" font-size="12.5">100°C</text>
<g fill="#000"><path d="M306.9,671.2L311.0,675.3L306.9,679.4L302.8,675.3Z"/></g>
<text transform="translate(316.2,678.0) scale(1.08,1)" font-size="12.5">120°C</text>
<text transform="translate(26.1,735.9) rotate(-90)" x="-28.3" y="4.3" font-size="13" textLength="56.6" lengthAdjust="spacingAndGlyphs"><tspan font-style="italic">γ</tspan>/(mN/m)</text>
<text x="188.2" y="868.9" font-size="13" textLength="37.8" lengthAdjust="spacingAndGlyphs"><tspan font-style="italic">p</tspan>/MPa</text>
<text x="79.9" y="886.1" font-size="13" textLength="127.2" lengthAdjust="spacingAndGlyphs">(e) isothermal curve of</text>
<text x="211.6" y="886.1" font-size="13" textLength="19.3" lengthAdjust="spacingAndGlyphs">CO</text>
<text x="231.9" y="888.3000000000001" font-size="7.5" textLength="3.8" lengthAdjust="spacingAndGlyphs">2</text>
<text x="237.0" y="886.1" font-size="13" textLength="4.3" lengthAdjust="spacingAndGlyphs">-</text>
<text x="241.0" y="886.1" font-size="13" textLength="92.5" lengthAdjust="spacingAndGlyphs">ethylbenzene IFT</text>
<path d="M405.5,596.8V841.4" stroke="#111" stroke-width="1.3"/>
<path d="M404.9,597.4H710.1" stroke="#444" stroke-width="1.3"/>
<path d="M709.5,596.8V841.4" stroke="#666" stroke-width="1.3"/>
<path d="M404.9,840.8H710.1" stroke="#888" stroke-width="1.3"/>
<path d="M429.0,840.8V836.3M452.4,840.8V836.3M475.8,840.8V836.3M499.2,840.8V836.3M522.6,840.8V836.3M546.0,840.8V836.3M569.4,840.8V836.3M592.8,840.8V836.3M616.2,840.8V836.3M639.6,840.8V836.3M663.0,840.8V836.3M686.4,840.8V836.3M405.5,820.4H410.0M405.5,800.2H410.0M405.5,779.9H410.0M405.5,759.7H410.0M405.5,739.4H410.0M405.5,719.1H410.0M405.5,698.9H410.0M405.5,678.6H410.0M405.5,658.4H410.0M405.5,638.1H410.0M405.5,617.8H410.0" stroke="#555" stroke-width="1.1" fill="none"/>
<text transform="translate(397.1,854.0) scale(1.0,1)" font-size="13.5" text-anchor="middle">0</text>
<text transform="translate(429.0,854.0) scale(1.0,1)" font-size="13.5" text-anchor="middle">1</text>
<text transform="translate(452.4,854.0) scale(1.0,1)" font-size="13.5" text-anchor="middle">2</text>
<text transform="translate(475.8,854.0) scale(1.0,1)" font-size="13.5" text-anchor="middle">3</text>
<text transform="translate(499.2,854.0) scale(1.0,1)" font-size="13.5" text-anchor="middle">4</text>
<text transform="translate(522.6,854.0) scale(1.0,1)" font-size="13.5" text-anchor="middle">5</text>
<text transform="translate(546.0,854.0) scale(1.0,1)" font-size="13.5" text-anchor="middle">6</text>
<text transform="translate(569.4,854.0) scale(1.0,1)" font-size="13.5" text-anchor="middle">7</text>
<text transform="translate(592.8,854.0) scale(1.0,1)" font-size="13.5" text-anchor="middle">8</text>
<text transform="translate(616.2,854.0) scale(1.0,1)" font-size="13.5" text-anchor="middle">9</text>
<text transform="translate(639.6,854.0) scale(1.0,1)" font-size="13.5" text-anchor="middle">10</text>
<text transform="translate(663.0,854.0) scale(1.0,1)" font-size="13.5" text-anchor="middle">11</text>
<text transform="translate(686.4,854.0) scale(1.0,1)" font-size="13.5" text-anchor="middle">12</text>
<text transform="translate(709.8,854.0) scale(1.0,1)" font-size="13.5" text-anchor="middle">13</text>
<text transform="translate(401,824.0) scale(1.0,1)" font-size="13.5" text-anchor="end">2</text>
<text transform="translate(401,803.8) scale(1.0,1)" font-size="13.5" text-anchor="end">4</text>
<text transform="translate(401,783.5) scale(1.0,1)" font-size="13.5" text-anchor="end">6</text>
<text transform="translate(401,763.3) scale(1.0,1)" font-size="13.5" text-anchor="end">8</text>
<text transform="translate(401,743.0) scale(1.0,1)" font-size="13.5" text-anchor="end">10</text>
<text transform="translate(401,722.7) scale(1.0,1)" font-size="13.5" text-anchor="end">12</text>
<text transform="translate(401,702.5) scale(1.0,1)" font-size="13.5" text-anchor="end">14</text>
<text transform="translate(401,682.2) scale(1.0,1)" font-size="13.5" text-anchor="end">16</text>
<text transform="translate(401,662.0) scale(1.0,1)" font-size="13.5" text-anchor="end">18</text>
<text transform="translate(401,641.7) scale(1.0,1)" font-size="13.5" text-anchor="end">20</text>
<text transform="translate(401,621.4) scale(1.0,1)" font-size="13.5" text-anchor="end">22</text>
<text transform="translate(401,601.2) scale(1.0,1)" font-size="13.5" text-anchor="end">24</text>
<polyline points="419.2,617.1 444.9,644.3 467.4,675.4 492.4,701.5 516.5,739.7 537.8,769.3 548.8,787.3 576.4,819.4" fill="none" stroke="#111" stroke-width="1.7" stroke-linejoin="round"/>
<g fill="#000"><rect x="416.2" y="614.1" width="6.0" height="6.0"/><rect x="441.9" y="641.3" width="6.0" height="6.0"/><rect x="464.4" y="672.4" width="6.0" height="6.0"/><rect x="489.4" y="698.5" width="6.0" height="6.0"/><rect x="513.5" y="736.7" width="6.0" height="6.0"/><rect x="534.8" y="766.3" width="6.0" height="6.0"/><rect x="545.8" y="784.3" width="6.0" height="6.0"/><rect x="573.4" y="816.4" width="6.0" height="6.0"/></g>
<polyline points="420.8,629.2 445.8,656.3 467.4,675.4 494.5,707.0 522.6,735.3 551.4,760.7 573.8,787.3 598.9,811.9 609.4,820.9" fill="none" stroke="#111" stroke-width="1.7" stroke-linejoin="round"/>
<g fill="#000"><circle cx="420.8" cy="629.2" r="3.0"/><circle cx="445.8" cy="656.3" r="3.0"/><circle cx="467.4" cy="675.4" r="3.0"/><circle cx="494.5" cy="707.0" r="3.0"/><circle cx="522.6" cy="735.3" r="3.0"/><circle cx="551.4" cy="760.7" r="3.0"/><circle cx="573.8" cy="787.3" r="3.0"/><circle cx="598.9" cy="811.9" r="3.0"/><circle cx="609.4" cy="820.9" r="3.0"/></g>
<polyline points="422.2,641.1 446.3,659.4 467.4,675.4 498.7,697.6 521.2,719.1 551.9,746.7 583.0,769.3 603.1,787.8 625.6,806.1 644.3,820.1" fill="none" stroke="#111" stroke-width="1.7" stroke-linejoin="round"/>
<g fill="#000"><path d="M418.7,643.7L425.7,643.7L422.2,637.4Z"/><path d="M442.8,661.9L449.8,661.9L446.3,655.7Z"/><path d="M463.9,677.9L470.9,677.9L467.4,671.7Z"/><path d="M495.3,700.1L502.2,700.1L498.7,693.8Z"/><path d="M517.7,721.7L524.7,721.7L521.2,715.4Z"/><path d="M548.4,749.2L555.3,749.2L551.9,743.0Z"/><path d="M579.5,771.8L586.5,771.8L583.0,765.6Z"/><path d="M599.6,790.3L606.6,790.3L603.1,784.1Z"/><path d="M622.1,808.6L629.0,808.6L625.6,802.3Z"/><path d="M640.8,822.7L647.8,822.7L644.3,816.4Z"/></g>
<polyline points="425.7,662.8 449.8,676.9 473.9,694.5 496.4,710.6 521.2,728.3 550.9,745.3 595.4,773.6 631.2,798.2 660.7,815.2" fill="none" stroke="#111" stroke-width="1.7" stroke-linejoin="round"/>
<g fill="#000"><path d="M422.2,660.3L429.2,660.3L425.7,666.5Z"/><path d="M446.3,674.4L453.3,674.4L449.8,680.6Z"/><path d="M470.4,692.0L477.4,692.0L473.9,698.2Z"/><path d="M492.9,708.1L499.9,708.1L496.4,714.4Z"/><path d="M517.7,725.7L524.7,725.7L521.2,732.0Z"/><path d="M547.4,742.8L554.4,742.8L550.9,749.0Z"/><path d="M591.9,771.1L598.9,771.1L595.4,777.4Z"/><path d="M627.7,795.6L634.7,795.6L631.2,801.9Z"/><path d="M657.2,812.7L664.1,812.7L660.7,818.9Z"/></g>
<polyline points="423.2,673.9 448.4,691.9 475.1,708.9 500.1,723.0 526.1,734.5 552.8,749.6 585.8,767.8 628.1,790.9 650.6,801.0 682.2,816.1" fill="none" stroke="#111" stroke-width="1.7" stroke-linejoin="round"/>
<g fill="#000"><path d="M423.2,669.8L427.2,673.9L423.2,677.9L419.1,673.9Z"/><path d="M448.4,687.8L452.5,691.9L448.4,696.0L444.3,691.9Z"/><path d="M475.1,704.8L479.2,708.9L475.1,713.0L471.0,708.9Z"/><path d="M500.1,718.9L504.2,723.0L500.1,727.1L496.1,723.0Z"/><path d="M526.1,730.5L530.2,734.5L526.1,738.6L522.0,734.5Z"/><path d="M552.8,745.6L556.9,749.6L552.8,753.7L548.7,749.6Z"/><path d="M585.8,763.7L589.9,767.8L585.8,771.8L581.7,767.8Z"/><path d="M628.1,786.8L632.2,790.9L628.1,794.9L624.1,790.9Z"/><path d="M650.6,796.9L654.7,801.0L650.6,805.1L646.5,801.0Z"/><path d="M682.2,812.0L686.3,816.1L682.2,820.2L678.1,816.1Z"/></g>
<g fill="#000"><rect x="649.3" y="607.9" width="6.0" height="6.0"/></g>
<text transform="translate(661.7,613.6) scale(1.08,1)" font-size="12.5">40°C</text>
<g fill="#000"><circle cx="652.3" cy="626.5" r="3.0"/></g>
<text transform="translate(661.7,629.2) scale(1.08,1)" font-size="12.5">60°C</text>
<g fill="#000"><path d="M648.8,644.6L655.8,644.6L652.3,638.4Z"/></g>
<text transform="translate(661.7,644.9) scale(1.08,1)" font-size="12.5">80°C</text>
<g fill="#000"><path d="M648.8,655.2L655.8,655.2L652.3,661.4Z"/></g>
<text transform="translate(661.7,660.4) scale(1.08,1)" font-size="12.5">100°C</text>
<g fill="#000"><path d="M652.3,669.2L656.4,673.3L652.3,677.4L648.2,673.3Z"/></g>
<text transform="translate(661.7,676.0) scale(1.08,1)" font-size="12.5">120°C</text>
<text transform="translate(374.7,713.8) rotate(-90)" x="-28.0" y="4.3" font-size="13" textLength="56" lengthAdjust="spacingAndGlyphs"><tspan font-style="italic">γ</tspan>/(mN/m)</text>
<text x="537.9" y="872.1" font-size="13" textLength="38.9" lengthAdjust="spacingAndGlyphs"><tspan font-style="italic">p</tspan>/MPa</text>
<text x="434.5" y="887.9" font-size="13" textLength="125.3" lengthAdjust="spacingAndGlyphs">(f) isothermal curve of</text>
<text x="560.5" y="887.9" font-size="13" textLength="19.3" lengthAdjust="spacingAndGlyphs">CO</text>
<text x="580.8" y="890.1" font-size="7.5" textLength="3.8" lengthAdjust="spacingAndGlyphs">2</text>
<text x="586.5" y="887.9" font-size="13" textLength="4.3" lengthAdjust="spacingAndGlyphs">-</text>
<text x="592.1" y="887.9" font-size="13" textLength="91.7" lengthAdjust="spacingAndGlyphs">ethylcyclohexane</text>
<text x="688.5" y="890.2" font-size="10.5" textLength="17.7" lengthAdjust="spacingAndGlyphs">IFT</text>
</svg></body></html>
